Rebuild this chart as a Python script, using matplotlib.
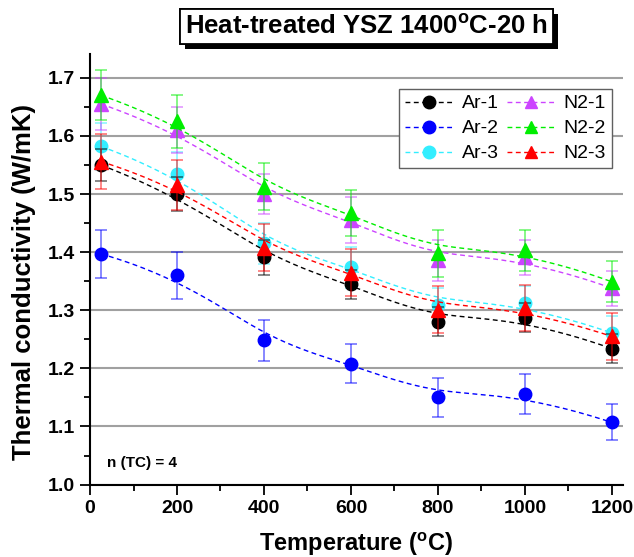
import numpy as np
import matplotlib
matplotlib.use("Agg")
import matplotlib.pyplot as plt
import matplotlib.patheffects as pe
from matplotlib.ticker import MultipleLocator

plt.rcParams['font.family'] = ['Liberation Sans', 'DejaVu Sans']
plt.rcParams['mathtext.fontset'] = 'custom'
plt.rcParams['mathtext.rm'] = 'Liberation Sans'
plt.rcParams['mathtext.bf'] = 'Liberation Sans:bold'

# temperatures (deg C)
temps = [25, 200, 400, 600, 800, 1000, 1200]

# thermal conductivity (W/mK) and standard deviations
ar1 = [1.550, 1.500, 1.391, 1.345, 1.280, 1.287, 1.234]
ar1_err = [0.027, 0.030, 0.030, 0.025, 0.025, 0.025, 0.025]
ar2 = [1.397, 1.360, 1.248, 1.208, 1.150, 1.156, 1.107]
ar2_err = [0.041, 0.040, 0.035, 0.034, 0.034, 0.035, 0.031]
ar3 = [1.582, 1.535, 1.415, 1.374, 1.309, 1.312, 1.261]
ar3_err = [0.040, 0.038, 0.036, 0.035, 0.030, 0.030, 0.030]
n21 = [1.655, 1.610, 1.500, 1.455, 1.386, 1.391, 1.338]
n21_err = [0.045, 0.040, 0.035, 0.040, 0.035, 0.030, 0.030]
n22 = [1.670, 1.625, 1.513, 1.467, 1.398, 1.403, 1.349]
n22_err = [0.043, 0.045, 0.040, 0.040, 0.040, 0.035, 0.035]
n23 = [1.556, 1.515, 1.408, 1.365, 1.301, 1.304, 1.255]
n23_err = [0.047, 0.043, 0.040, 0.040, 0.040, 0.040, 0.040]

series = [
    # label, values, errors, color, marker, zorder
    ("Ar-1", ar1, ar1_err, "black", "o", 4),
    ("Ar-2", ar2, ar2_err, "#0000ff", "o", 3),
    ("Ar-3", ar3, ar3_err, "#33eeff", "o", 2),
    ("N2-1", n21, n21_err, "#cc44ff", "^", 5),
    ("N2-2", n22, n22_err, "#00ee00", "^", 6),
    ("N2-3", n23, n23_err, "#ff0000", "^", 7),
]


def bspline(px, py, k=3, num=200):
    # clamped B-spline using the data points as control points (Origin "B-Spline")
    px, py = np.asarray(px, float), np.asarray(py, float)
    n = len(px)
    knots = np.concatenate([np.zeros(k), np.arange(n - k + 1), np.full(k, n - k)])
    u = np.linspace(0, n - k, num)
    u[-1] -= 1e-9
    # Cox-de Boor recursion
    B = np.array([(u >= knots[i]) & (u < knots[i + 1]) for i in range(len(knots) - 1)],
                 dtype=float)
    for d in range(1, k + 1):
        Bn = np.zeros((len(knots) - 1 - d, len(u)))
        for i in range(len(knots) - 1 - d):
            a = knots[i + d] - knots[i]
            b = knots[i + d + 1] - knots[i + 1]
            if a > 0:
                Bn[i] += (u - knots[i]) / a * B[i]
            if b > 0:
                Bn[i] += (knots[i + d + 1] - u) / b * B[i + 1]
        B = Bn
    return B.T @ px, B.T @ py


fig = plt.figure(figsize=(6.34, 5.57), dpi=100)
ax = fig.add_axes([0.142, 0.130, 0.841, 0.773])

t = np.array(temps, dtype=float)
dash = (0, (3.5, 2.5))
handles = []
for label, vals, errs, color, marker, z in series:
    msize = 9 if marker == "o" else 10
    ax.errorbar(t, vals, yerr=errs, fmt="none", ecolor=color, alpha=0.55,
                elinewidth=1.2, capsize=4.5, capthick=1.2, zorder=z)
    ax.plot(t, vals, linestyle="none", marker=marker, markersize=msize,
            color=color, zorder=z + 0.5)
    sx, sy = bspline(t, vals)
    ax.plot(sx, sy, linestyle=dash, linewidth=1.0, color=color, zorder=z + 0.2)
    h, = ax.plot([], [], linestyle=dash, linewidth=1.0,
                 marker=marker, markersize=9, color=color, label=label)
    handles.append(h)

ax.set_xlim(0, 1226)
ax.set_ylim(1.0, 1.741)
ax.xaxis.set_major_locator(MultipleLocator(200))
ax.xaxis.set_minor_locator(MultipleLocator(100))
ax.yaxis.set_major_locator(MultipleLocator(0.1))
ax.yaxis.set_minor_locator(MultipleLocator(0.05))
ax.yaxis.set_major_formatter(plt.FuncFormatter(lambda v, p: f"{v:.1f}"))
ax.tick_params(which="major", direction="out", length=7, width=1.3,
               labelsize=14, pad=4)
ax.tick_params(which="minor", direction="out", length=4, width=1.3)
for lab in ax.get_xticklabels() + ax.get_yticklabels():
    lab.set_fontweight("bold")

for side in ("top", "right"):
    ax.spines[side].set_visible(False)
for side in ("left", "bottom"):
    ax.spines[side].set_linewidth(1.5)

ax.yaxis.grid(True, color="#a0a0a0", linewidth=1.5)
ax.set_axisbelow(True)

ax.set_xlabel(r"Temperature ($^\mathbf{o}$C)", fontsize=17, fontweight="bold",
              labelpad=9.5)
ax.set_ylabel("Thermal conductivity (W/mK)", fontsize=18.5, fontweight="bold")
ax.yaxis.set_label_coords(-0.102, 0.47)

leg = ax.legend(handles=handles, ncol=2, loc="upper right",
                bbox_to_anchor=(0.979, 0.919), fontsize=14, handlelength=2.45,
                columnspacing=0.45, handletextpad=0.45, labelspacing=0.38,
                borderpad=0.3, borderaxespad=0, fancybox=False, framealpha=1)
leg.get_frame().set_edgecolor("#606060")
leg.get_frame().set_linewidth(1.0)

ax.text(0.032, 0.050, "n (TC) = 4", transform=ax.transAxes, fontsize=11,
        fontweight="bold", ha="left", va="center")

title = fig.text(0.578, 0.952, r"Heat-treated YSZ 1400$^\mathbf{o}$C-20 h",
                 fontsize=18.5, fontweight="bold", ha="center", va="center",
                 bbox=dict(boxstyle="square,pad=0.2", facecolor="white",
                           edgecolor="black", linewidth=1.3))
title.get_bbox_patch().set_path_effects(
    [pe.withSimplePatchShadow(offset=(3.5, -3.5), shadow_rgbFace="black",
                              alpha=1.0), pe.Normal()])

fig.savefig("out.png", dpi=100)
